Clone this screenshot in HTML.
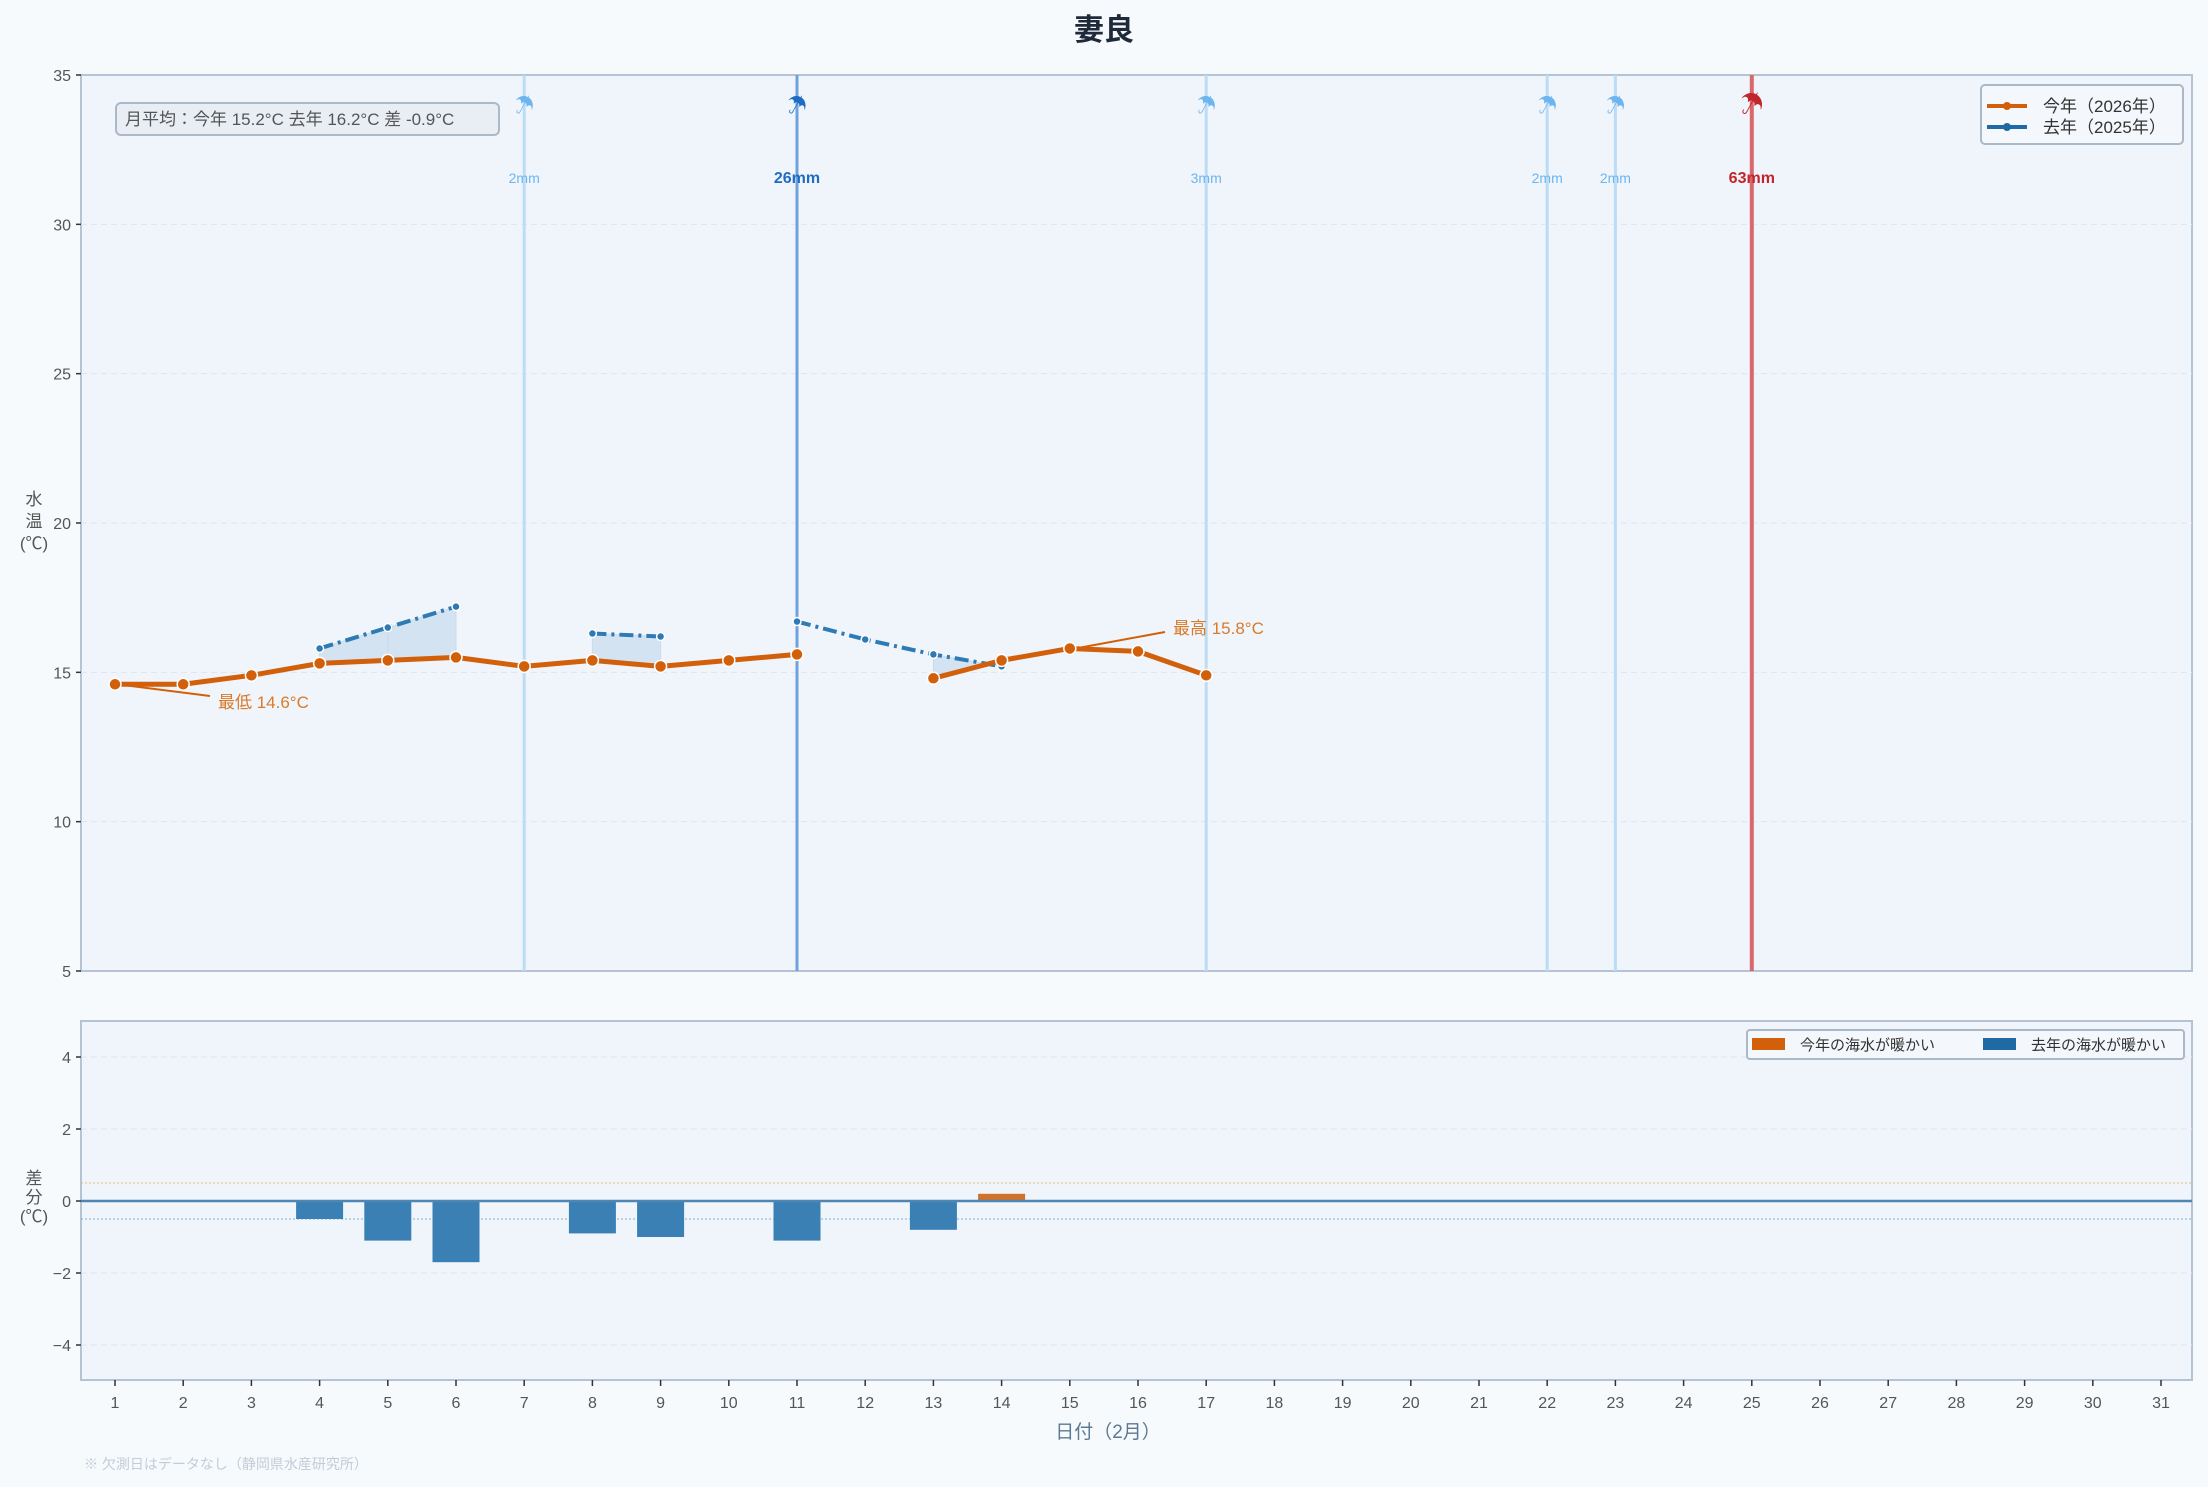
<!DOCTYPE html>
<html><head><meta charset="utf-8"><style>
body{margin:0;background:#f7fafd;}
svg{display:block;font-family:"Liberation Sans","Noto Sans CJK JP",sans-serif;}
</style></head><body>
<svg id="c" width="2208" height="1487" viewBox="0 0 2208 1487"></svg>
<script>
const days=[1,2,3,4,5,6,7,8,9,10,11,12,13,14,15,16,17];
const thisYear=[14.6,14.6,14.9,15.3,15.4,15.5,15.2,15.4,15.2,15.4,15.6,null,14.8,15.4,15.8,15.7,14.9];
const lastYear=[null,null,null,15.8,16.5,17.2,null,16.3,16.2,null,16.7,16.1,15.6,15.2,null,null,null];
const rainDays=[7,11,17,22,23,25];
const rainMm=[2,26,3,2,2,63];
const yTicks=[5,10,15,20,25,30,35];
const dTicks=[-4,-2,0,2,4];
const NS='http://www.w3.org/2000/svg';
const svg=document.getElementById('c');
const L=81,R=2192,T1=75,B1=971,T2=1021,B2=1380;
const X=d=>115+(d-1)*68.2;
const Y=v=>T1+(35-v)*(B1-T1)/30;
const YD=v=>1201-v*36;
function el(tag,a,txt){const e=document.createElementNS(NS,tag);for(const k in a)e.setAttribute(k,a[k]);if(txt!==undefined)e.textContent=txt;svg.appendChild(e);return e;}
// title
let t=el('text',{x:1104,y:40,'text-anchor':'middle','font-size':30,'font-weight':'bold',fill:'#1e2a3a'},'妻良');

// panels
let p=el('rect',{x:L,y:T1,width:R-L,height:B1-T1,fill:'#f0f5fc',stroke:'#b4c4d4','stroke-width':2});

p=el('rect',{x:L,y:T2,width:R-L,height:B2-T2,fill:'#f0f5fc',stroke:'#b4c4d4','stroke-width':2});

// y ticks top
yTicks.forEach(v=>{
 if(v>5&&v<35){const g=el('line',{x1:L,x2:R,y1:Y(v),y2:Y(v),stroke:'#dde5ee','stroke-dasharray':'6 4','stroke-width':1});}
 el('line',{x1:L-5,x2:L,y1:Y(v),y2:Y(v),stroke:'#333','stroke-width':1.5});
 const l=el('text',{x:L-10,y:Y(v)+6,'text-anchor':'end','font-size':16,fill:'#555'},v);
 
});
let a=el('text',{x:34,y:505,'text-anchor':'middle','font-size':17,fill:'#555'});

['水','温','(℃)'].forEach((s,i)=>{const ts=document.createElementNS(NS,'tspan');ts.setAttribute('x',34);ts.setAttribute('dy',i?22:0);ts.textContent=s;a.appendChild(ts);});
// rain lines
rainDays.forEach((d,i)=>{
 const mm=rainMm[i];const big=mm>=50,mid=mm>=10&&mm<50;
 const col=big?'#c0262b':mid?'#1f6cc4':'#6db5ee';
 const lc=big?'#d9686c':mid?'#6fa2dc':'#bcdcf5';
 const ln=el('line',{x1:X(d),x2:X(d),y1:T1,y2:B1,stroke:lc,'stroke-width':big?4:3});
 
 const u=el('text',{x:X(d),y:112,'text-anchor':'middle','font-size':big?24:20,fill:col},'☂');
 
 const m=el('text',{x:X(d),y:183,'text-anchor':'middle','font-size':mm>=10?16:14,'font-weight':mm>=10?'bold':'normal',fill:col},mm+'mm');
 
});
// fills between
for(let i=0;i<days.length-1;i++){
 const a1=thisYear[i],b1=lastYear[i],a2=thisYear[i+1],b2=lastYear[i+1];
 if(a1!=null&&b1!=null&&a2!=null&&b2!=null){
  const f=el('polygon',{points:`${X(days[i])},${Y(a1)} ${X(days[i+1])},${Y(a2)} ${X(days[i+1])},${Y(b2)} ${X(days[i])},${Y(b1)}`,fill:'#a9c8e0','fill-opacity':0.4,stroke:'#c8dcea','stroke-width':1});
  
 }
}
function series(vals,col,w,dash,r,name){
 let seg=[];const segs=[];
 vals.forEach((v,i)=>{if(v==null){if(seg.length)segs.push(seg);seg=[];}else seg.push([X(days[i]),Y(v)]);});
 if(seg.length)segs.push(seg);
 segs.forEach(s=>{const pl=el('polyline',{points:s.map(q=>q.join(',')).join(' '),fill:'none',stroke:col,'stroke-width':w,'stroke-dasharray':dash,'stroke-linejoin':'round'});
  });
 vals.forEach((v,i)=>{if(v==null)return;const c=el('circle',{cx:X(days[i]),cy:Y(v),r:r,fill:col,stroke:'#fff','stroke-width':1.5});
  });
}
series(lastYear,'#2e7ab5',4,'14 5 3 5',4,'last-year');
series(thisYear,'#d2600a',5,'',6,'this-year');
// annotations
let an=el('line',{x1:123,y1:685,x2:210,y2:696,stroke:'#d2600a','stroke-width':2});
an=el('text',{x:218,y:708,'font-size':17,fill:'#d97a2a'},'最低 14.6°C');
an=el('line',{x1:1078,y1:648,x2:1165,y2:632,stroke:'#d2600a','stroke-width':2});
an=el('text',{x:1173,y:634,'font-size':17,fill:'#d97a2a'},'最高 15.8°C');
// avg box
let b=el('rect',{x:116,y:103,width:383,height:32,rx:5,fill:'#e9eef4',stroke:'#a9b9c8','stroke-width':2});
b=el('text',{x:125,y:125,'font-size':17,fill:'#555'},'月平均：今年 15.2°C  去年 16.2°C  差 -0.9°C');
// legend top
let lg=el('rect',{x:1981,y:85,width:202,height:59,rx:4,fill:'#f4f7fb',stroke:'#a9b9c8','stroke-width':2});
[['#d2600a','今年（2026年）',106,'legend-entry-this-year'],['#1f6aa5','去年（2025年）',127,'legend-entry-last-year']].forEach(e=>{
 el('line',{x1:1987,x2:2027,y1:e[2],y2:e[2],stroke:e[0],'stroke-width':4});
 el('circle',{cx:2007,cy:e[2],r:4,fill:e[0]});
 const tx=el('text',{x:2043,y:e[2]+6,'font-size':17,fill:'#333'},e[1]);
});
// bottom panel
dTicks.forEach(v=>{
 if(v!==0){const g=el('line',{x1:L,x2:R,y1:YD(v),y2:YD(v),stroke:'#dde5ee','stroke-dasharray':'6 4'});}
 el('line',{x1:L-5,x2:L,y1:YD(v),y2:YD(v),stroke:'#333','stroke-width':1.5});
 const l=el('text',{x:L-10,y:YD(v)+6,'text-anchor':'end','font-size':16,fill:'#555'},v<0?'−'+(-v):v);
 
});
el('line',{x1:L,x2:R,y1:YD(0.5),y2:YD(0.5),stroke:'#e8b888','stroke-dasharray':'2 2'});
el('line',{x1:L,x2:R,y1:YD(-0.5),y2:YD(-0.5),stroke:'#7fb0d4','stroke-dasharray':'2 2'});
a=el('text',{x:34,y:1184,'text-anchor':'middle','font-size':17,fill:'#555'});

['差','分','(℃)'].forEach((s,i)=>{const ts=document.createElementNS(NS,'tspan');ts.setAttribute('x',34);ts.setAttribute('dy',i?19:0);ts.textContent=s;a.appendChild(ts);});
days.forEach((d,i)=>{
 if(thisYear[i]==null||lastYear[i]==null)return;
 const v=Math.round((thisYear[i]-lastYear[i])*10)/10;
 const y0=YD(0),y1=YD(v);
 const r=el('rect',{x:X(d)-23.5,y:Math.min(y0,y1),width:47,height:Math.abs(y1-y0),fill:v>=0?'#d2712a':'#3a80b5'});
 
});
el('line',{x1:L,x2:R,y1:YD(0),y2:YD(0),stroke:'#4f86b4','stroke-width':2.5});
// bottom legend
lg=el('rect',{x:1747,y:1030,width:437,height:29,rx:3,fill:'#f4f7fb',stroke:'#a9b9c8','stroke-width':2});
el('rect',{x:1752,y:1038,width:33,height:12,fill:'#d2600a'});
let lt=el('text',{x:1800,y:1050,'font-size':15,fill:'#333'},'今年の海水が暖かい');
el('rect',{x:1983,y:1038,width:33,height:12,fill:'#1f6aa5'});
lt=el('text',{x:2031,y:1050,'font-size':15,fill:'#333'},'去年の海水が暖かい');
// x ticks
for(let d=1;d<=31;d++){
 el('line',{x1:X(d),x2:X(d),y1:B2,y2:B2+6,stroke:'#333','stroke-width':1.5});
 const l=el('text',{x:X(d),y:1408,'text-anchor':'middle','font-size':16,fill:'#555'},d);
 
}
a=el('text',{x:1108,y:1438,'text-anchor':'middle','font-size':19,fill:'#5a7a94'},'日付（2月）');
a=el('text',{x:84,y:1469,'font-size':14,fill:'#c0ccd8'},'※ 欠測日はデータなし（静岡県水産研究所）');
</script>
</body></html>
